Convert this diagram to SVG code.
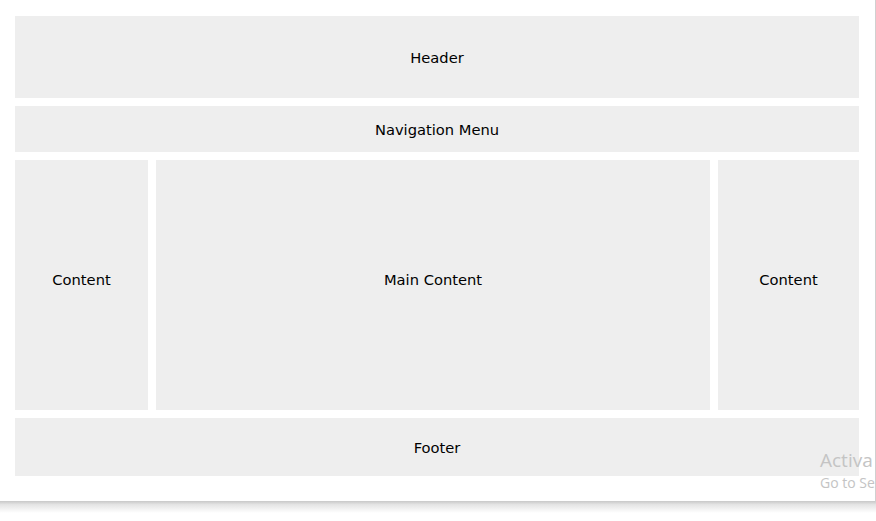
<svg xmlns="http://www.w3.org/2000/svg" width="876" height="521" viewBox="0 0 876 521">
  <defs>
    <linearGradient id="shadowB" x1="0" y1="0" x2="0" y2="1">
      <stop offset="0" stop-color="#c8c8c8"/>
      <stop offset="0.3" stop-color="#e4e4e4"/>
      <stop offset="1" stop-color="#ffffff"/>
    </linearGradient>
    <style>
      .box { fill: #eeeeee; }
      .lbl { font-family: "DejaVu Sans", Verdana, sans-serif; font-size: 14.7px; fill: #000; text-anchor: middle; }
      .wm1 { font-family: "Open Sans", "Noto Sans", sans-serif; font-size: 19px; fill: #c4c4c4; }
      .wm2 { font-family: "Open Sans", "Noto Sans", sans-serif; font-size: 14px; fill: #c4c4c4; }
    </style>
  </defs>
  <rect x="0" y="0" width="876" height="521" fill="#ffffff"/>
  <!-- page shadow -->
  <rect x="0" y="501" width="876" height="12" fill="url(#shadowB)"/>
  <rect x="875" y="0" width="1" height="502" fill="#d0d0d0"/>

  <g id="header">
    <rect class="box" x="15" y="16" width="844" height="82"/>
    <text class="lbl" x="437" y="63">Header</text>
  </g>
  <g id="nav">
    <rect class="box" x="15" y="106" width="844" height="46"/>
    <text class="lbl" x="437" y="134.5">Navigation Menu</text>
  </g>
  <g id="left-content">
    <rect class="box" x="15" y="160" width="133" height="250"/>
    <text class="lbl" x="81.5" y="285">Content</text>
  </g>
  <g id="main-content">
    <rect class="box" x="156" y="160" width="554" height="250"/>
    <text class="lbl" x="433" y="285">Main Content</text>
  </g>
  <g id="right-content">
    <rect class="box" x="718" y="160" width="141" height="250"/>
    <text class="lbl" x="788.5" y="285">Content</text>
  </g>
  <g id="footer">
    <rect class="box" x="15" y="418" width="844" height="58"/>
    <text class="lbl" x="437" y="452.5">Footer</text>
  </g>
  <g id="connectors"/>

  <text class="wm1" x="820" y="467">Activa</text>
  <text class="wm2" x="820" y="488">Go to Se</text>
</svg>
